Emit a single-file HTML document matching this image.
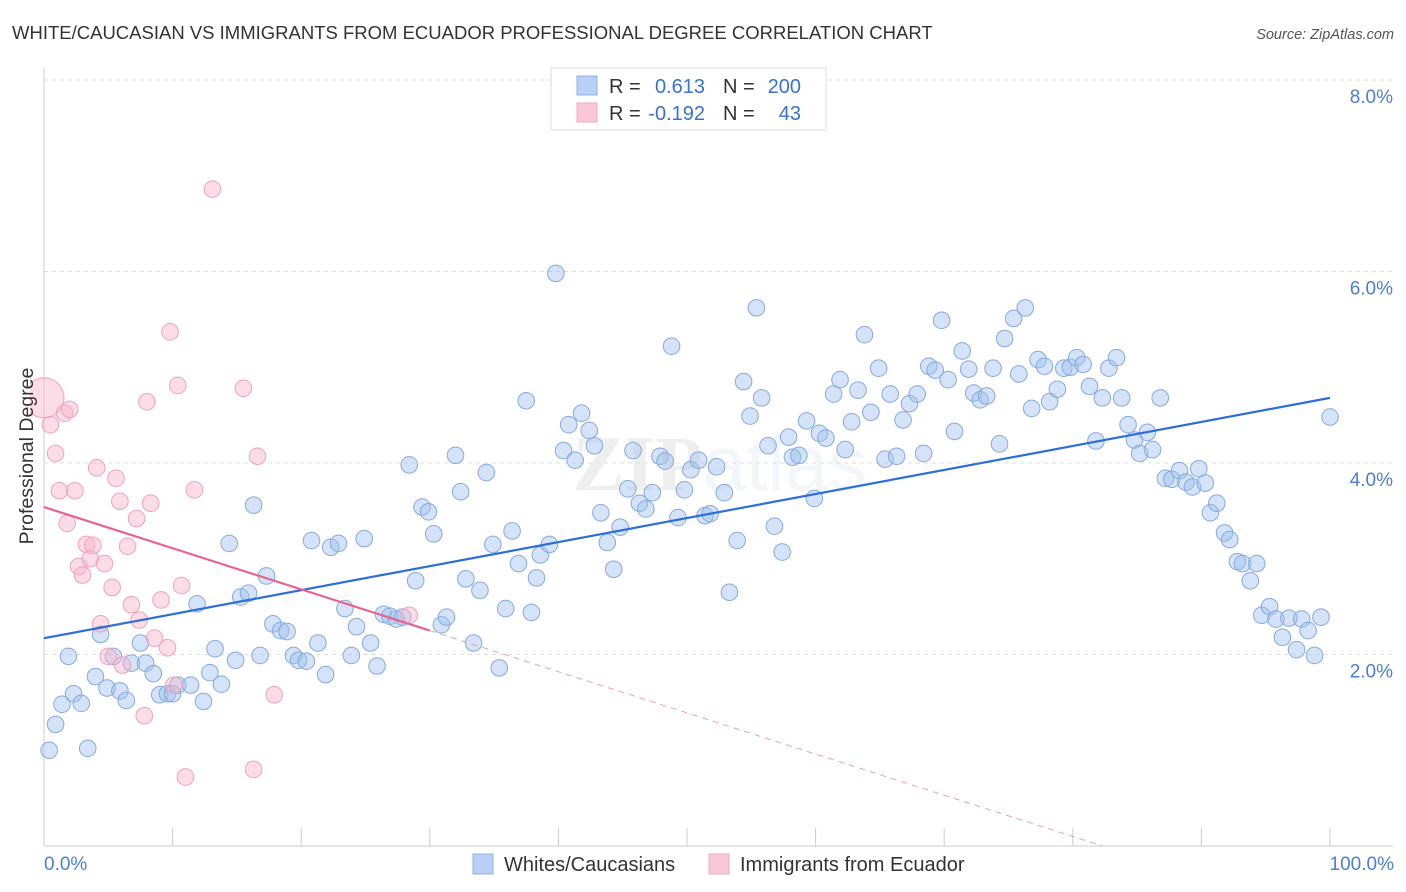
<!DOCTYPE html>
<html><head><meta charset="utf-8"><style>
body{margin:0;background:#fff;font-family:"Liberation Sans",sans-serif;}
svg{display:block}
</style></head><body>
<svg id="chart" width="1406" height="892" xmlns="http://www.w3.org/2000/svg">
<defs><clipPath id="plotclip"><rect x="30" y="60" width="1376" height="800"/></clipPath></defs>
<text x="12" y="39" font-size="18.5" fill="#333">WHITE/CAUCASIAN VS IMMIGRANTS FROM ECUADOR PROFESSIONAL DEGREE CORRELATION CHART</text>
<text x="1394" y="39" font-size="14.5" fill="#555" font-style="italic" text-anchor="end">Source: ZipAtlas.com</text>
<text x="720" y="490" font-size="78" fill="#000" opacity="0.06" text-anchor="middle" font-family="Liberation Serif" font-weight="bold">ZIP<tspan font-family="Liberation Sans" font-weight="normal" fill="#2a6bd0" opacity="0.9">atlas</tspan></text>
<g id="grid"></g>
<g id="axes"></g>
<g id="pts" clip-path="url(#plotclip)"></g>
<g id="lines"></g>
<text transform="translate(33,456) rotate(-90)" font-size="19.5" fill="#333" text-anchor="middle">Professional Degree</text>
<text x="44" y="870" font-size="19" fill="#4a7fd4">0.0%</text>
<text x="1394" y="870" font-size="19" fill="#4a7fd4" text-anchor="end">100.0%</text>
<g>
<rect x="551" y="68" width="275" height="62" fill="#fff" stroke="#ddd"/>
<rect x="577" y="76" width="20" height="19" fill="#b8d0f5" stroke="#8fb0e0"/>
<rect x="577" y="103" width="20" height="19" fill="#fac8d8" stroke="#f0a8c0"/>
<text x="609" y="93" font-size="20" fill="#333">R =</text>
<text x="705" y="93" font-size="20" fill="#3a72d0" text-anchor="end">0.613</text>
<text x="723" y="93" font-size="20" fill="#333">N =</text>
<text x="801" y="93" font-size="20" fill="#3a72d0" text-anchor="end">200</text>
<text x="609" y="120" font-size="20" fill="#333">R =</text>
<text x="705" y="120" font-size="20" fill="#3a72d0" text-anchor="end">-0.192</text>
<text x="723" y="120" font-size="20" fill="#333">N =</text>
<text x="801" y="120" font-size="20" fill="#3a72d0" text-anchor="end">43</text>
</g>
<g>
<rect x="473" y="854" width="20" height="20" fill="#b8d0f5" stroke="#8fb0e0"/>
<text x="504" y="871" font-size="20" fill="#333">Whites/Caucasians</text>
<rect x="709" y="854" width="20" height="20" fill="#fac8d8" stroke="#f0a8c0"/>
<text x="740" y="871" font-size="20" fill="#333">Immigrants from Ecuador</text>
</g>
</svg>
<script>
const yTicks=[2,4,6,8];
const yTickLabels=["2.0%","4.0%","6.0%","8.0%"];
const xTicks=[0,10,20,30,40,50,60,70,80,90,100];
const blueX=[0.4,0.9,1.4,1.9,2.3,2.9,3.4,4.0,4.4,4.9,5.4,5.9,6.4,6.8,7.5,7.9,8.5,9.0,9.6,10.0,10.4,11.4,11.9,12.4,12.9,13.3,13.8,14.4,14.9,15.3,15.9,16.3,16.8,17.3,17.8,18.4,18.9,19.4,19.8,20.4,20.8,21.3,21.9,22.3,22.9,23.4,23.9,24.3,24.9,25.4,25.9,26.4,26.9,27.4,27.9,28.4,28.9,29.4,29.9,30.3,30.9,31.3,32.0,32.4,32.8,33.4,33.9,34.4,34.9,35.4,35.9,36.4,36.9,37.5,37.9,38.3,38.6,39.3,39.8,40.4,40.8,41.3,41.8,42.4,42.8,43.3,43.8,44.3,44.8,45.4,45.8,46.3,46.8,47.3,47.9,48.3,48.8,49.3,49.8,50.3,50.9,51.4,51.8,52.3,52.9,53.3,53.9,54.4,54.9,55.4,55.8,56.3,56.8,57.4,57.9,58.2,58.7,59.3,59.9,60.3,60.8,61.4,61.9,62.3,62.8,63.3,63.8,64.3,64.9,65.4,65.8,66.3,66.8,67.3,67.9,68.4,68.8,69.3,69.8,70.3,70.8,71.4,71.9,72.3,72.8,73.3,73.8,74.3,74.7,75.4,75.8,76.3,76.8,77.3,77.8,78.2,78.8,79.3,79.8,80.3,80.8,81.3,81.8,82.3,82.8,83.4,83.8,84.3,84.8,85.2,85.8,86.2,86.8,87.2,87.7,88.3,88.8,89.3,89.8,90.3,90.7,91.2,91.8,92.2,92.8,93.2,93.8,94.3,94.7,95.3,95.8,96.3,96.8,97.4,97.8,98.3,98.8,99.3,100];
const blueY=[1.00,1.27,1.48,1.98,1.59,1.49,1.02,1.77,2.21,1.65,1.98,1.62,1.52,1.91,2.12,1.91,1.80,1.58,1.59,1.59,1.68,1.68,2.53,1.51,1.81,2.06,1.69,3.16,1.94,2.60,2.64,3.56,1.99,2.82,2.32,2.25,2.24,1.99,1.94,1.93,3.19,2.12,1.79,3.12,3.16,2.48,1.99,2.29,3.21,2.12,1.88,2.42,2.40,2.37,2.39,3.98,2.77,3.54,3.49,3.26,2.31,2.39,4.08,3.70,2.79,2.12,2.67,3.90,3.15,1.86,2.48,3.29,2.95,4.65,2.44,2.80,3.04,3.15,5.98,4.13,4.40,4.03,4.52,4.34,4.18,3.48,3.17,2.89,3.33,3.73,4.13,3.58,3.52,3.69,4.07,4.02,5.22,3.43,3.72,3.93,4.03,3.45,3.47,3.96,3.69,2.65,3.19,4.85,4.49,5.62,4.68,4.18,3.34,3.07,4.27,4.06,4.08,4.44,3.63,4.31,4.26,4.72,4.87,4.14,4.43,4.76,5.34,4.53,4.99,4.04,4.72,4.07,4.45,4.62,4.72,4.10,5.01,4.97,5.49,4.87,4.33,5.17,4.98,4.73,4.66,4.70,4.99,4.20,5.30,5.51,4.93,5.62,4.57,5.08,5.01,4.64,4.77,4.99,5.00,5.10,5.03,4.80,4.23,4.68,4.99,5.10,4.68,4.40,4.24,4.10,4.32,4.14,4.68,3.84,3.83,3.92,3.80,3.75,3.94,3.79,3.48,3.58,3.27,3.20,2.97,2.95,2.77,2.95,2.41,2.50,2.37,2.18,2.38,2.05,2.37,2.25,1.99,2.39,4.48];
const pinkX=[0,0.5,0.9,1.2,1.6,1.8,2.0,2.4,2.7,3.0,3.3,3.6,3.8,4.1,4.4,4.7,5.0,5.3,5.6,5.9,6.1,6.5,6.8,7.2,7.4,7.8,8.0,8.3,8.6,9.1,9.6,9.8,10.1,10.4,10.7,11.0,11.7,13.1,15.5,16.3,16.6,17.9,28.4];
const pinkY=[4.68,4.40,4.10,3.71,4.52,3.37,4.56,3.71,2.92,2.83,3.15,3.00,3.14,3.95,2.32,2.95,1.98,2.70,3.84,3.60,1.89,3.13,2.52,3.42,2.36,1.36,4.64,3.58,2.17,2.57,2.07,5.37,1.68,4.81,2.72,0.72,3.72,6.86,4.78,0.80,4.07,1.58,2.41];
const blueTrend=[2.17,4.68];
const pinkTrend=[3.54,-0.043];
const NS="http://www.w3.org/2000/svg";
const sx=v=>44+v*12.86, sy=v=>846-v*95.75;
function mk(tag,attrs,parent){const e=document.createElementNS(NS,tag);for(const k in attrs)e.setAttribute(k,attrs[k]);parent.appendChild(e);return e;}
const grid=document.getElementById('grid'),axes=document.getElementById('axes'),pts=document.getElementById('pts'),lines=document.getElementById('lines');
yTicks.forEach((t,i)=>{
 const l=mk('line',{x1:44,x2:1393,y1:sy(t),y2:sy(t),stroke:'#ddd','stroke-dasharray':'4,4'},grid);
 
 
 const tx=mk('text',{x:1393,y:sy(t)+23,'font-size':19,fill:'#4a7fd4','text-anchor':'end'},grid);
 tx.textContent=yTickLabels[i];
 
 
});
const ax=mk('line',{x1:44,x2:44,y1:68,y2:846,stroke:'#ccc'},axes);


const bx=mk('line',{x1:44,x2:1393,y1:846,y2:846,stroke:'#ccc'},axes);


xTicks.forEach(t=>{
 const l=mk('line',{x1:sx(t),x2:sx(t),y1:828,y2:846,stroke:'#ccc'},axes);
 
 
});
blueX.forEach((x,i)=>{
 const c=mk('circle',{cx:sx(x),cy:sy(blueY[i]),r:8.3,fill:'rgba(160,192,238,0.45)',stroke:'#86a9de','stroke-width':1},pts);
 
 
});
pinkX.forEach((x,i)=>{
 const c=mk('circle',{cx:sx(x),cy:sy(pinkY[i]),r:i===0?20:8.3,fill:'rgba(248,180,202,0.45)',stroke:'#eea2ba','stroke-width':1},pts);
 
 
});
const bl=mk('line',{x1:sx(0),y1:sy(blueTrend[0]),x2:sx(100),y2:sy(blueTrend[1]),stroke:'#2e6fd6','stroke-width':2.2},lines);


const pf=x=>pinkTrend[0]+pinkTrend[1]*x;
const pl=mk('line',{x1:sx(0),y1:sy(pf(0)),x2:sx(30),y2:sy(pf(30)),stroke:'#e8648e','stroke-width':2.2},lines);


const xEnd=-pinkTrend[0]/pinkTrend[1];
const pd=mk('line',{x1:sx(30),y1:sy(pf(30)),x2:sx(xEnd),y2:sy(0),stroke:'#e8a0b8','stroke-width':1,'stroke-dasharray':'6,5'},lines);


</script>
</body></html>
